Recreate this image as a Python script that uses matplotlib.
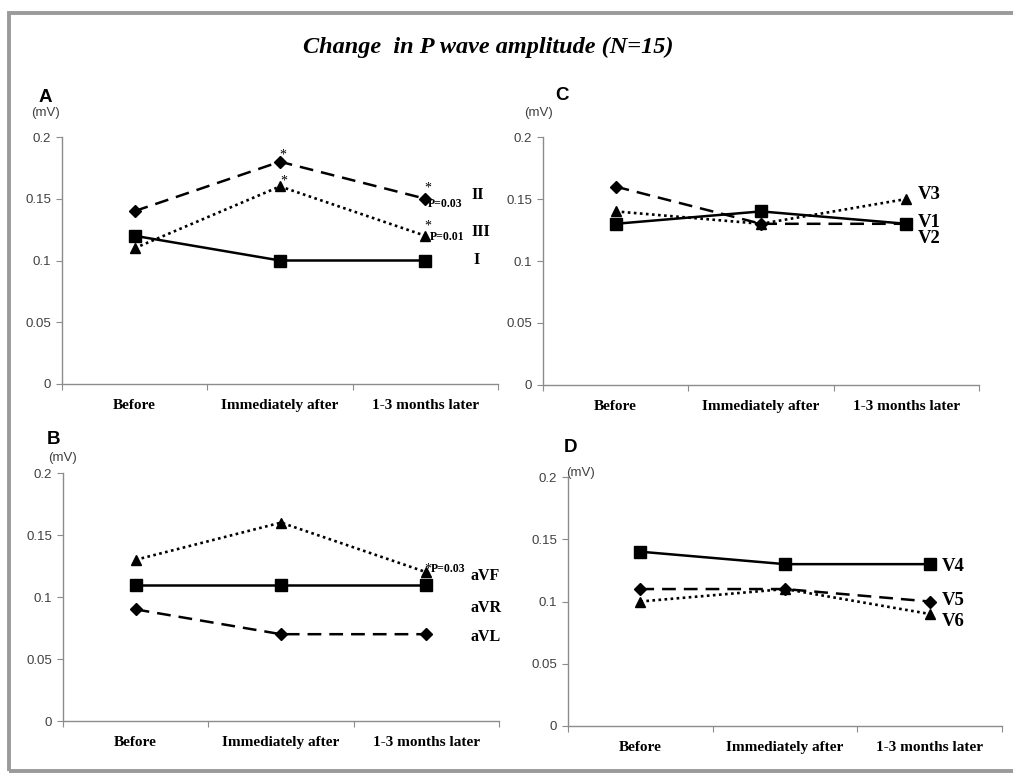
import matplotlib
matplotlib.use('Agg')
import matplotlib.pyplot as plt
from matplotlib.patches import Rectangle
import numpy as np

# categories and values (mV)
cats = ['Before', 'Immediately after', '1-3 months later']

A_I = [0.12, 0.10, 0.10]
A_II = [0.14, 0.18, 0.15]
A_III = [0.11, 0.16, 0.12]

B_aVR = [0.11, 0.11, 0.11]
B_aVL = [0.09, 0.07, 0.07]
B_aVF = [0.13, 0.16, 0.12]

C_V1 = [0.13, 0.14, 0.13]
C_V2 = [0.16, 0.13, 0.13]
C_V3 = [0.14, 0.13, 0.15]

D_V4 = [0.14, 0.13, 0.13]
D_V5 = [0.11, 0.11, 0.10]
D_V6 = [0.10, 0.11, 0.09]

yticks = [0, 0.05, 0.1, 0.15, 0.2]
ytick_labels = ['0', '0.05', '0.1', '0.15', '0.2']

SERIF = 'Liberation Serif'
SANS = 'Liberation Sans'
AXGRAY = '#8c8c8c'

x = np.arange(len(cats)) + 0.5

solid = dict(color='black', ls='-', lw=1.8, marker='s', ms=8)
dashed = dict(color='black', ls=(0, (5.5, 3.2)), lw=1.8, marker='D', ms=6.6)
dotted = dict(color='black', ls=(0, (1, 1.3)), lw=1.9, marker='^', ms=7.5)

W, H = 1013, 774
fig = plt.figure(figsize=(W / 100, H / 100), dpi=100)

# grey frame around the whole figure
fig.patches.append(Rectangle((8.5 / W, 1 - 771 / H), 1.0, (771 - 13) / H,
                             transform=fig.transFigure, fill=False,
                             edgecolor='#9a9a9a', lw=2.8))

fig.text(488 / W, 1 - 47 / H, 'Change  in P wave amplitude (N=15)',
         ha='center', va='center', family=SERIF, style='italic',
         weight='bold', fontsize=17.5)


def make_axes(l, r, t, b):
    ax = fig.add_axes([l / W, 1 - b / H, (r - l) / W, (b - t) / H])
    ax.set_xlim(0, 3)
    ax.set_ylim(0, 0.2)
    ax.set_xticks([0, 1, 2, 3])
    ax.set_xticklabels([])
    ax.set_xticks(x, minor=True)
    ax.set_xticklabels(cats, minor=True, family=SERIF, weight='bold',
                       fontsize=11)
    ax.tick_params(axis='x', which='minor', length=0, pad=11)
    ax.tick_params(axis='x', which='major', length=4, color=AXGRAY)
    ax.set_yticks(yticks)
    ax.set_yticklabels(ytick_labels, family=SANS, fontsize=9.5,
                       color='#404040')
    ax.tick_params(axis='y', length=4, color=AXGRAY, pad=4)
    for s in ['top', 'right']:
        ax.spines[s].set_visible(False)
    for s in ['left', 'bottom']:
        ax.spines[s].set_color(AXGRAY)
        ax.spines[s].set_linewidth(1)
    ax.patch.set_alpha(0)
    return ax


def lead_label(ax, text, yval, dx, size):
    ax.annotate(text, (2.5, yval), xytext=(dx, 0), textcoords='offset points',
                ha='left', va='center', family=SERIF, weight='bold',
                fontsize=size)


def star(ax, xi, yval, dx, dy, size=10):
    ax.annotate('*', (x[xi], yval), xytext=(dx, dy), textcoords='offset points',
                ha='center', va='center', family=SERIF, fontsize=size)


def pval(ax, text, yval, dx, dy):
    ax.annotate(text, (2.5, yval), xytext=(dx, dy), textcoords='offset points',
                ha='left', va='center', family=SERIF, weight='bold',
                fontsize=8.5)


def panel_head(letter, lx, ly, mx, my):
    fig.text(lx / W, 1 - ly / H, letter, ha='center', va='center',
             family=SANS, weight='bold', fontsize=13.5)
    fig.text(mx / W, 1 - my / H, '(mV)', ha='center', va='center',
             family=SANS, fontsize=9.5, color='#404040')


# ---- A: limb leads I, II, III
axA = make_axes(62, 498, 137, 384)
axA.plot(x, A_I, **solid)
axA.plot(x, A_II, **dashed)
axA.plot(x, A_III, **dotted)
star(axA, 1, A_II[1], 2, 5)
star(axA, 1, A_III[1], 3, 4)
star(axA, 2, A_II[2], 2, 8)
star(axA, 2, A_III[2], 2, 7)
pval(axA, 'P=0.03', A_II[2], 2, -4)
pval(axA, 'P=0.01', A_III[2], 3, -1)
lead_label(axA, 'II', A_II[2] + 0.003, 33, 11.5)
lead_label(axA, 'III', A_III[2] + 0.003, 33, 11.5)
lead_label(axA, 'I', A_I[2], 35, 11.5)
panel_head('A', 45, 97, 45, 113)

# ---- B: augmented leads
axB = make_axes(63, 499, 473, 721)
axB.plot(x, B_aVR, **solid)
axB.plot(x, B_aVL, **dashed)
axB.plot(x, B_aVF, **dotted)
star(axB, 1, B_aVF[1], 1, -2, 8)
star(axB, 2, B_aVF[2], 1, 2)
pval(axB, 'P=0.03', B_aVF[2], 3, 2)
lead_label(axB, 'aVF', B_aVF[2] - 0.003, 32, 11.5)
lead_label(axB, 'aVR', B_aVR[2] - 0.019, 32, 11.5)
lead_label(axB, 'aVL', B_aVL[2] - 0.002, 32, 11.5)
panel_head('B', 53, 440, 62, 458)

# ---- C: precordial V1-V3
axC = make_axes(543, 979, 137, 385)
axC.plot(x, C_V1, **solid)
axC.plot(x, C_V2, **dashed)
axC.plot(x, C_V3, **dotted)
lead_label(axC, 'V3', C_V3[2] + 0.004, 8, 13.5)
lead_label(axC, 'V1', C_V1[2] + 0.001, 8, 13.5)
lead_label(axC, 'V2', C_V2[2] - 0.012, 8, 13.5)
panel_head('C', 562, 96, 538, 113)

# ---- D: precordial V4-V6
axD = make_axes(568, 1002, 477, 726)
axD.plot(x, D_V4, **solid)
axD.plot(x, D_V5, **dashed)
axD.plot(x, D_V6, **dotted)
lead_label(axD, 'V4', D_V4[2] - 0.002, 9, 13.5)
lead_label(axD, 'V5', D_V5[2] + 0.001, 9, 13.5)
lead_label(axD, 'V6', D_V6[2] - 0.006, 9, 13.5)
panel_head('D', 570, 448, 580, 473)

fig.savefig('out.png', dpi=100)
